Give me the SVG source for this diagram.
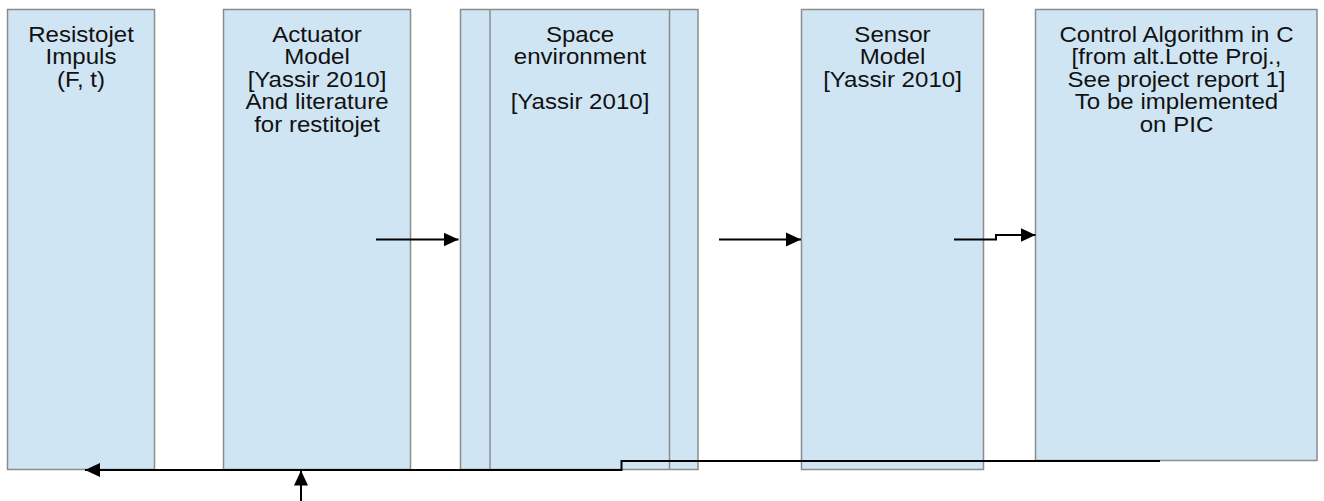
<svg xmlns="http://www.w3.org/2000/svg" width="1324" height="501" viewBox="0 0 1324 501">
  <style>
    .box { fill: #d0e5f3; stroke: #8c8c8c; stroke-width: 1.5; }
    .div { fill: none; stroke: #8c8c8c; stroke-width: 1.5; }
    .lbl { font-family: "Liberation Sans", Arial, sans-serif; font-size: 21.5px; fill: #111; text-anchor: middle; }
    .conn { fill: none; stroke: #000; stroke-width: 2; }
  </style>
  <defs>
    <marker id="arrow" markerUnits="userSpaceOnUse" markerWidth="16" markerHeight="16" viewBox="0 0 16 16" refX="15" refY="8" orient="auto">
      <path d="M0,1 L15,8 L0,15 Z" fill="#000"/>
    </marker>
  </defs>
  <rect x="0" y="0" width="1324" height="501" fill="#fff"/>

  <g id="node-resistojet">
    <rect class="box" x="7.5" y="9.5" width="147" height="460"/>
    <g transform="translate(81,0) scale(1.12,1)">
      <text class="lbl" x="0" y="42">Resistojet</text>
      <text class="lbl" x="0" y="64.5">Impuls</text>
      <text class="lbl" x="0" y="87">(F, t)</text>
    </g>
  </g>

  <g id="node-actuator">
    <rect class="box" x="223.5" y="9.5" width="187" height="460"/>
    <g transform="translate(317,0) scale(1.12,1)">
      <text class="lbl" x="0" y="42">Actuator</text>
      <text class="lbl" x="0" y="64.5">Model</text>
      <text class="lbl" x="0" y="87">[Yassir 2010]</text>
      <text class="lbl" x="0" y="109.5">And literature</text>
      <text class="lbl" x="0" y="132">for restitojet</text>
    </g>
  </g>

  <g id="node-space">
    <rect class="box" x="460.5" y="9.5" width="237.5" height="460"/>
    <line class="div" x1="490" y1="9.5" x2="490" y2="469.5"/>
    <line class="div" x1="669.5" y1="9.5" x2="669.5" y2="469.5"/>
    <g transform="translate(580,0) scale(1.12,1)">
      <text class="lbl" x="0" y="42">Space</text>
      <text class="lbl" x="0" y="64.5">environment</text>
      <text class="lbl" x="0" y="109.5">[Yassir 2010]</text>
    </g>
  </g>

  <g id="node-sensor">
    <rect class="box" x="801.5" y="9.5" width="182" height="460"/>
    <g transform="translate(892.5,0) scale(1.12,1)">
      <text class="lbl" x="0" y="42">Sensor</text>
      <text class="lbl" x="0" y="64.5">Model</text>
      <text class="lbl" x="0" y="87">[Yassir 2010]</text>
    </g>
  </g>

  <g id="node-control">
    <rect class="box" x="1035.5" y="9.5" width="281.5" height="451"/>
    <g transform="translate(1176.5,0) scale(1.12,1)">
      <text class="lbl" x="0" y="42">Control Algorithm in C</text>
      <text class="lbl" x="0" y="64.5">[from alt.Lotte Proj.,</text>
      <text class="lbl" x="0" y="87">See project report 1]</text>
      <text class="lbl" x="0" y="109.5">To be implemented</text>
      <text class="lbl" x="0" y="132">on PIC</text>
    </g>
  </g>

  <g id="connectors">
    <path class="conn" d="M376,239.5 L458.5,239.5" marker-end="url(#arrow)"/>
    <path class="conn" d="M719,239.5 L801,239.5" marker-end="url(#arrow)"/>
    <path class="conn" d="M954,239.5 L996,239.5 L996,235 L1035.5,235" marker-end="url(#arrow)"/>
    <path class="conn" d="M1160,461 L621.5,461 L621.5,470 L85,470" marker-end="url(#arrow)"/>
    <path class="conn" d="M301,501 L301,470.5" marker-end="url(#arrow)"/>
  </g>
</svg>
